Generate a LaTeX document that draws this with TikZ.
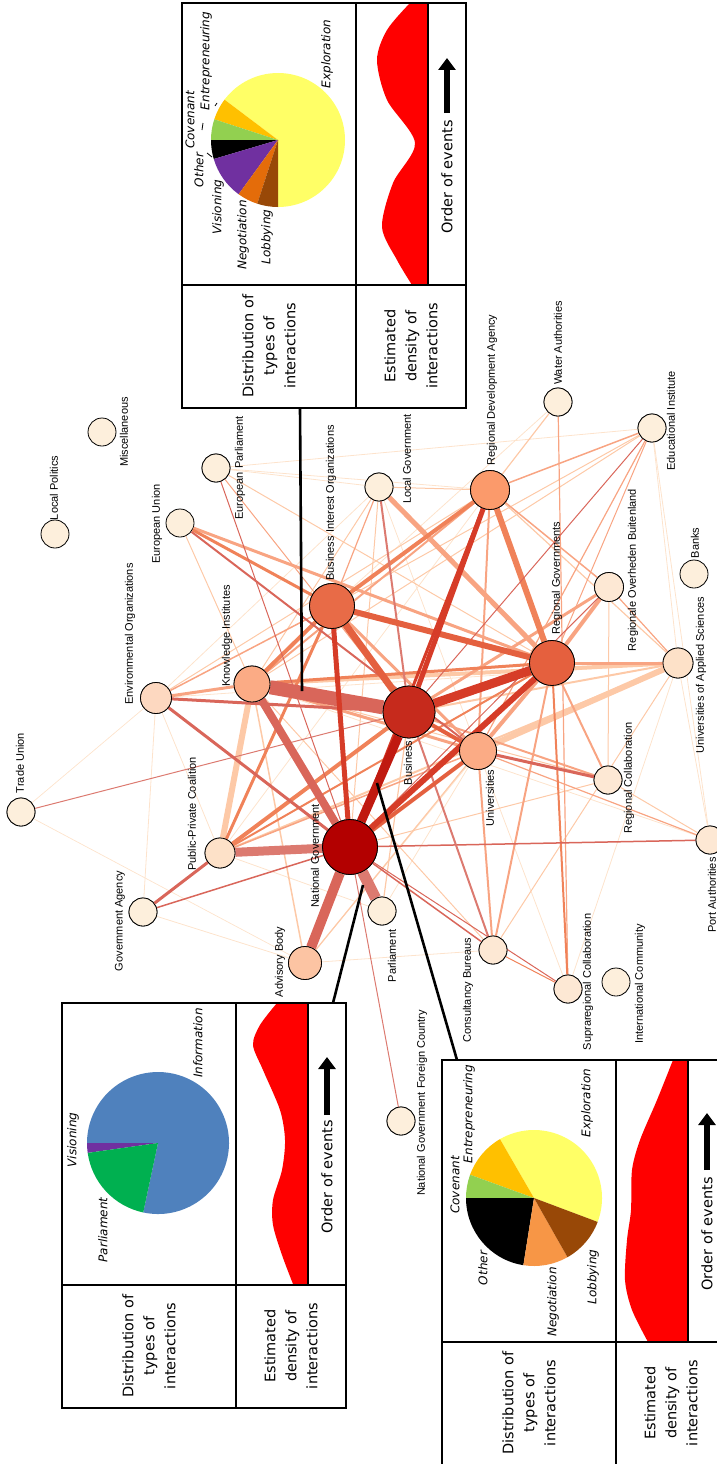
\documentclass[tikz,border=0pt]{standalone}
\usepackage{fontspec}
\setmainfont{DejaVu Sans}
\newfontfamily\actorfont{Liberation Sans}
\usetikzlibrary{arrows.meta}
% node fills
\definecolor{ngRed}{HTML}{B30000}
\definecolor{busRed}{HTML}{C62A1C}
\definecolor{rgRed}{HTML}{E5603E}
\definecolor{bioRed}{HTML}{E86B47}
\definecolor{rdaOr}{HTML}{FB9A6B}
\definecolor{kiOr}{HTML}{FBAB85}
\definecolor{abOr}{HTML}{FCC4A3}
\definecolor{eoOr}{HTML}{FDD8C0}
\definecolor{midOr}{HTML}{FDE1C8}
\definecolor{paleOr}{HTML}{FDE8D4}
\definecolor{lowOr}{HTML}{FDEFDC}
% edge colours
\definecolor{edgeFaint}{HTML}{FDE3CC}
\definecolor{edgePeach}{HTML}{FDC9A7}
\definecolor{edgeSalmon}{HTML}{F8A482}
\definecolor{edgeOrange}{HTML}{F08259}
\definecolor{edgeRedOr}{HTML}{E4603F}
\definecolor{edgeRed}{HTML}{D63C28}
\definecolor{edgeDark}{HTML}{C01A10}
\definecolor{edgeMuted}{HTML}{D9665A}
\definecolor{edgePink}{HTML}{DC7A70}
% pie colours
\definecolor{pieYellow}{HTML}{FFFF66}
\definecolor{pieGold}{HTML}{FFC000}
\definecolor{pieGreen}{HTML}{92D050}
\definecolor{piePurple}{HTML}{7030A0}
\definecolor{pieOrange}{HTML}{E46C0A}
\definecolor{pieLight}{HTML}{F79646}
\definecolor{pieBrown}{HTML}{984807}
\definecolor{pieBlue}{HTML}{4F81BD}
\definecolor{pieParl}{HTML}{00B050}

\begin{document}
\begin{tikzpicture}[x=1pt,y=-1pt,
actor/.style={circle,draw=black,line width=0.8pt,inner sep=0pt,minimum size=#1},
actor/.default=28pt,
actorlabel/.style={rotate=90,inner sep=0pt,font=\actorfont\fontsize{11}{12}\selectfont},
boxline/.style={line width=2.2pt},
boxtext/.style={rotate=90,align=center,inner sep=0pt,font=\fontsize{14.5}{21}\selectfont},
pietext/.style={rotate=90,inner sep=0pt,font=\itshape\fontsize{12}{14}\selectfont},
eventarrow/.style={line width=6pt,-{Triangle[length=12pt,width=17pt]}},
boxlink/.style={line width=2.6pt}
]
\useasboundingbox (0,0) rectangle (717,1464);
\clip (0,0) rectangle (717,1464);

% actors
\node[actor=55pt,fill=ngRed] (ng) at (350,847) {};
\node[actor=52pt,fill=busRed] (bus) at (409,712) {};
\node[actor=45pt,fill=rgRed] (rg) at (552,663) {};
\node[actor=45pt,fill=bioRed] (bio) at (332,606) {};
\node[actor=39pt,fill=rdaOr] (rda) at (490,490) {};
\node[actor=36pt,fill=kiOr] (ki) at (252,684) {};
\node[actor=37pt,fill=kiOr] (uni) at (478,751) {};
\node[actor=33pt,fill=abOr] (ab) at (305,963) {};
\node[actor=31pt,fill=eoOr] (eo) at (156,698) {};
\node[actor=30pt,fill=midOr] (ppc) at (220,853) {};
\node[actor=30pt,fill=midOr] (uas) at (678,663) {};
\node[actor=29pt,fill=paleOr] (rob) at (609,587) {};
\node[actor,fill=paleOr] (rc) at (608,780) {};
\node[actor,fill=paleOr] (port) at (710,840) {};
\node[actor,fill=paleOr] (cb) at (493,950) {};
\node[actor,fill=paleOr] (sc) at (568,989) {};
\node[actor,fill=lowOr] (ic) at (616,982) {};
\node[actor,fill=lowOr] (parl) at (382,911) {};
\node[actor,fill=lowOr] (ga) at (143,912) {};
\node[actor,fill=lowOr] (tu) at (21,812) {};
\node[actor,fill=lowOr] (ngf) at (401,1121) {};
\node[actor,fill=lowOr] (lgov) at (379,487) {};
\node[actor,fill=lowOr] (water) at (558,402) {};
\node[actor,fill=lowOr] (edu) at (652,428) {};
\node[actor,fill=lowOr] (banks) at (694,574) {};
\node[actor,fill=lowOr] (epar) at (216,468) {};
\node[actor,fill=lowOr] (eu) at (180,523) {};
\node[actor,fill=lowOr] (misc) at (102,432) {};
\node[actor,fill=lowOr] (lpol) at (55,534) {};

% interactions, faint to strong
\foreach \a/\b/\w/\c in {tu/eo/0.7/edgeFaint,tu/ab/0.7/edgeFaint,ga/ab/0.8/edgeFaint,ga/eo/0.8/edgeFaint,
  ga/bus/0.8/edgeFaint,eo/ppc/0.8/edgeFaint,eo/uas/0.8/edgeFaint,epar/edu/0.8/edgeFaint,edu/port/0.8/edgeFaint,
  sc/uni/0.8/edgeFaint,sc/uas/0.8/edgeFaint,cb/ab/0.8/edgeFaint,parl/uni/0.8/edgeFaint,parl/ppc/0.8/edgeFaint,
  lgov/uni/0.8/edgeFaint,port/ki/0.8/edgeFaint,uas/edu/0.8/edgeFaint,ab/rg/0.8/edgeFaint,lgov/eo/0.8/edgeFaint,
  epar/lgov/0.8/edgeFaint,epar/rda/0.8/edgeFaint,water/bio/0.8/edgeFaint,ppc/rda/0.8/edgeFaint,uas/port/0.8/edgeFaint,
  lgov/ng/1/edgePeach,rda/lgov/1/edgePeach,uas/cb/1/edgePeach,eu/ki/1/edgePeach,rc/ki/1/edgePeach,cb/ki/1/edgePeach,
  lgov/ki/1/edgePeach,epar/rg/1/edgePeach,parl/bus/1.2/edgePeach,ab/uni/1.2/edgePeach,ab/bus/2/edgePeach,
  ab/ki/1.5/edgePeach,rda/uas/1.2/edgePeach,water/rda/1.2/edgePeach,port/rc/1/edgePeach,rc/ng/1/edgePeach,
  rc/rob/1/edgePeach,edu/ki/1/edgePeach,edu/bio/1/edgePeach,bus/uas/2/edgePeach,uas/ppc/2/edgePeach,eo/rda/1/edgePeach,
  ki/uas/4/edgePeach,uni/uas/6/edgePeach,ki/ppc/6/edgePeach,
  edu/uni/1.2/edgeSalmon,edu/rda/1.5/edgeSalmon,edu/rg/1/edgeSalmon,rda/rob/1.5/edgeSalmon,rda/uni/2/edgeSalmon,
  rda/ki/2/edgeSalmon,uas/rob/1.2/edgeSalmon,port/uni/1.2/edgeSalmon,lgov/bio/1.2/edgeSalmon,epar/bus/1/edgeSalmon,
  bus/rob/3/edgeSalmon,rg/uni/4/edgeSalmon,rg/uas/3/edgeSalmon,rg/rc/2/edgeSalmon,rg/cb/2/edgeSalmon,
  bio/uni/3/edgeSalmon,ppc/uni/1.5/edgeSalmon,eo/bio/1.5/edgeSalmon,parl/ki/1/edgeSalmon,water/sc/1.2/edgeSalmon,
  eu/rg/3/edgeSalmon,uni/cb/2/edgeSalmon,bus/rc/2/edgeSalmon,ki/uni/3/edgeSalmon,ki/eo/3/edgeSalmon,
  rg/lgov/5/edgeSalmon,rg/rob/4/edgeSalmon,
  rg/sc/2/edgeOrange,cb/sc/1/edgeOrange,ki/rg/3/edgeOrange,ppc/rg/2/edgeOrange,bio/ppc/3/edgeOrange,
  ppc/bus/4/edgeOrange,bio/eu/3/edgeOrange,bio/ki/4/edgeOrange,bio/rda/4/edgeOrange,rg/rda/6/edgeOrange,
  tu/bus/1/edgePink,epar/ng/1/edgeMuted,rob/ng/1/edgeMuted,edu/bus/1/edgeMuted,port/ng/1.5/edgeMuted,
  cb/ng/1.5/edgeMuted,sc/ng/1/edgeMuted,ga/ng/1.5/edgeMuted,ngf/ng/1/edgePink,eu/uni/2/edgeMuted,
  rc/uni/3/edgeMuted,ppc/ga/3/edgeMuted,bus/cb/2/edgePink,bus/lgov/2/edgePink,ng/eo/3/edgeMuted,bus/eo/3/edgeMuted,
  ng/ppc/9/edgePink,ng/parl/11/edgePink,ng/ab/10/edgeMuted,ng/ki/8/edgeMuted,ki/bus/14/edgeMuted,
  ng/uni/4/edgeRedOr,bus/uni/4/edgeRedOr,rg/bio/6/edgeRedOr,bus/bio/7/edgeRedOr,ng/rda/3/edgeRed,
  bus/rda/5/edgeRed,ng/bio/5/edgeRed,bus/rg/9/edgeRed,ng/rg/6/edgeRed,ng/bus/9/edgeDark}
  \draw[line width=\w pt,draw=\c] (\a) -- (\b);

% actors again on top of the interactions
\foreach \n/\s/\f in {ng/55/ngRed,bus/52/busRed,rg/45/rgRed,bio/45/bioRed,rda/39/rdaOr,ki/36/kiOr,uni/37/kiOr,
  ab/33/abOr,eo/31/eoOr,ppc/30/midOr,uas/30/midOr,rob/29/paleOr,rc/28/paleOr,port/28/paleOr,cb/28/paleOr,
  sc/28/paleOr,parl/28/lowOr,ga/28/lowOr,tu/28/lowOr,ngf/28/lowOr,lgov/28/lowOr,water/28/lowOr,edu/28/lowOr,epar/28/lowOr}
  \node[actor=\s pt,fill=\f] at (\n) {};

% actor labels
\node[actorlabel] (lpolL) at (54,488) {Local Politics};
\node[actorlabel] (miscL) at (124,432) {Miscellaneous};
\node[actorlabel] (eparL) at (240,468) {European Parliament};
\node[actorlabel] (euL) at (157,524) {European Union};
\node[actorlabel] (bioL) at (331,503) {Business Interest Organizations};
\node[actorlabel] (kiL) at (227,636) {Knowledge Institutes};
\node[actorlabel] (eoL) at (130,634) {Environmental Organizations};
\node[actorlabel] (tuL) at (20,763) {Trade Union};
\node[actorlabel] (ppcL) at (192,814) {Public-Private Coalition};
\node[actorlabel] (gaL) at (120,921) {Government Agency};
\node[actorlabel] (ngL) at (315,856) {National Government};
\node[actorlabel] (abL) at (280,962) {Advisory Body};
\node[actorlabel] (busL) at (408,763) {Business};
\node[actorlabel] (uniL) at (490,798) {Universities};
\node[actorlabel] (rcL) at (629,778) {Regional Collaboration};
\node[actorlabel] (portL) at (712,895) {Port Authorities};
\node[actorlabel] (parlL) at (392,956) {Parliament};
\node[actorlabel] (cbL) at (468,990) {Consultancy Bureaus};
\node[actorlabel] (scL) at (588,982) {Supraregional Collaboration};
\node[actorlabel] (icL) at (640,984) {International Community};
\node[actorlabel] (ngfL) at (422,1103) {National Government Foreign Country};
\node[actorlabel] (uasL) at (701,675) {Universities of Applied Sciences};
\node[actorlabel] (robL) at (633,570) {Regionale Overheden Buitenland};
\node[actorlabel] (rgL) at (557,578) {Regional Governments};
\node[actorlabel] (banksL) at (695,543) {Banks};
\node[actorlabel] (eduL) at (671,421) {Educational Institute};
\node[actorlabel] (waterL) at (558,343) {Water Authorities};
\node[actorlabel] (lgovL) at (407,459) {Local Government};
\node[actorlabel] (rdaL) at (492,390) {Regional Development Agency};

% pointers from the insets
\coordinate (kbFoot) at (300,408);
\coordinate (kbTip) at (302,691);
\coordinate (ngFoot) at (333,1003);
\coordinate (ngTip) at (363,885);
\coordinate (nbFoot) at (457,1060);
\coordinate (nbTip) at (377,783);
\draw[boxlink] (kbFoot) -- (kbTip);
\draw[boxlink] (ngFoot) -- (ngTip);
\draw[boxlink] (nbFoot) -- (nbTip);

% inset: Knowledge Institutes - Business
\begin{scope}[shift={(182,3)}]
\fill[white] (0,0) rectangle (284,405);
\fill[red] (246,0) -- plot[smooth] coordinates {(228,0) (205,27) (195,57) (205,97) (233,140) (211,180) (200,224) (215,257) (230,282)} -- (246,282) -- cycle;
\fill[pieYellow] (96,137) -- ++(90:67) arc[start angle=90,end angle=-143,radius=67] -- cycle;
\fill[pieGold] (96,137) -- ++(-143:67) arc[start angle=-143,end angle=-162,radius=67] -- cycle;
\fill[pieGreen] (96,137) -- ++(-162:67) arc[start angle=-162,end angle=-180,radius=67] -- cycle;
\fill[black] (96,137) -- ++(-180:67) arc[start angle=-180,end angle=-196.5,radius=67] -- cycle;
\fill[piePurple] (96,137) -- ++(-196.5:67) arc[start angle=-196.5,end angle=-234,radius=67] -- cycle;
\fill[pieOrange] (96,137) -- ++(-234:67) arc[start angle=-234,end angle=-252,radius=67] -- cycle;
\fill[pieBrown] (96,137) -- ++(-252:67) arc[start angle=-252,end angle=-270,radius=67] -- cycle;
\draw[line width=0.8pt] (33,103) -- (35,100) (21,120) -- (20,127) (25,150) -- (30,154);
\node[pietext] (kbExpl) at (145,51) {Exploration};
\node[pietext] (kbEntr) at (24,58) {Entrepreneuring};
\node[pietext] (kbCov) at (8,117) {Covenant};
\node[pietext] (kbOth) at (17,167) {Other};
\node[pietext] (kbVis) at (36,204) {Visioning};
\node[pietext] (kbNeg) at (61,232) {Negotiation};
\node[pietext] (kbLob) at (85,234) {Lobbying};
\draw[boxline] (0,0) rectangle (284,405) (0,282) -- (284,282) (174,0) -- (174,405) (246,0) -- (246,282);
\draw[eventarrow] (265,110) -- (265,55);
\node[boxtext] (kbOrder) at (265,174) {Order of events};
\node[boxtext] (kbDist) at (87,343) {Distribution of\\types of\\interactions};
\node[boxtext] (kbDens) at (229,343) {Estimated\\density of\\interactions};
\end{scope}

% inset: National Government - Parliament
\begin{scope}[shift={(62,1003)}]
\fill[white] (0,0) rectangle (284,405);
\fill[red] (246,0) -- plot[smooth] coordinates {(215,0) (198,22) (191,42) (201,67) (218,107) (223,137) (220,167) (211,197) (211,222) (220,252) (231,281)} -- (246,282) -- cycle;
\fill[pieBlue] (96,140) -- ++(102:71) arc[start angle=102,end angle=-180,radius=71] -- cycle;
\fill[piePurple] (96,140) -- ++(-180:71) arc[start angle=-180,end angle=-188,radius=71] -- cycle;
\fill[pieParl] (96,140) -- ++(-188:71) arc[start angle=-188,end angle=-258,radius=71] -- cycle;
\node[pietext] (ngInfo) at (136,40) {Information};
\node[pietext] (ngVis) at (11,137) {Visioning};
\node[pietext] (ngParl) at (41,227) {Parliament};
\draw[boxline] (0,0) rectangle (284,405) (0,282) -- (284,282) (174,0) -- (174,405) (246,0) -- (246,282);
\draw[eventarrow] (265,112) -- (265,54);
\node[boxtext] (ngOrder) at (265,174) {Order of events};
\node[boxtext] (ngDist) at (87,343) {Distribution of\\types of\\interactions};
\node[boxtext] (ngDens) at (229,343) {Estimated\\density of\\interactions};
\end{scope}

% inset: National Government - Business
\begin{scope}[shift={(442,1060)}]
\fill[white] (0,0) rectangle (284,405);
\fill[red] (246,0) -- plot[smooth] coordinates {(231,0) (215,40) (198,80) (190,110) (189,150) (185,180) (183,220) (190,250) (206,282)} -- (246,282) -- cycle;
\fill[pieYellow] (92,138) -- ++(20.6:68) arc[start angle=20.6,end angle=-120,radius=68] -- cycle;
\fill[pieGold] (92,138) -- ++(-120:68) arc[start angle=-120,end angle=-160,radius=68] -- cycle;
\fill[pieGreen] (92,138) -- ++(-160:68) arc[start angle=-160,end angle=-180,radius=68] -- cycle;
\fill[black] (92,138) -- ++(-180:68) arc[start angle=-180,end angle=-261,radius=68] -- cycle;
\fill[pieLight] (92,138) -- ++(-261:68) arc[start angle=-261,end angle=-299.5,radius=68] -- cycle;
\fill[pieBrown] (92,138) -- ++(-299.5:68) arc[start angle=-299.5,end angle=-339.4,radius=68] -- cycle;
\node[pietext] (nbExpl) at (145,43) {Exploration};
\node[pietext] (nbEntr) at (27,54) {Entrepreneuring};
\node[pietext] (nbCov) at (13,125) {Covenant};
\node[pietext] (nbOth) at (41,208) {Other};
\node[pietext] (nbNeg) at (111,242) {Negotiation};
\node[pietext] (nbLob) at (151,217) {Lobbying};
\draw[boxline] (0,0) rectangle (284,405) (0,282) -- (284,282) (174,0) -- (174,405) (246,0) -- (246,282);
\draw[eventarrow] (265,110) -- (265,53);
\node[boxtext] (nbOrder) at (265,174) {Order of events};
\node[boxtext] (nbDist) at (87,343) {Distribution of\\types of\\interactions};
\node[boxtext] (nbDens) at (229,343) {Estimated\\density of\\interactions};
\end{scope}
\end{tikzpicture}
\end{document}
